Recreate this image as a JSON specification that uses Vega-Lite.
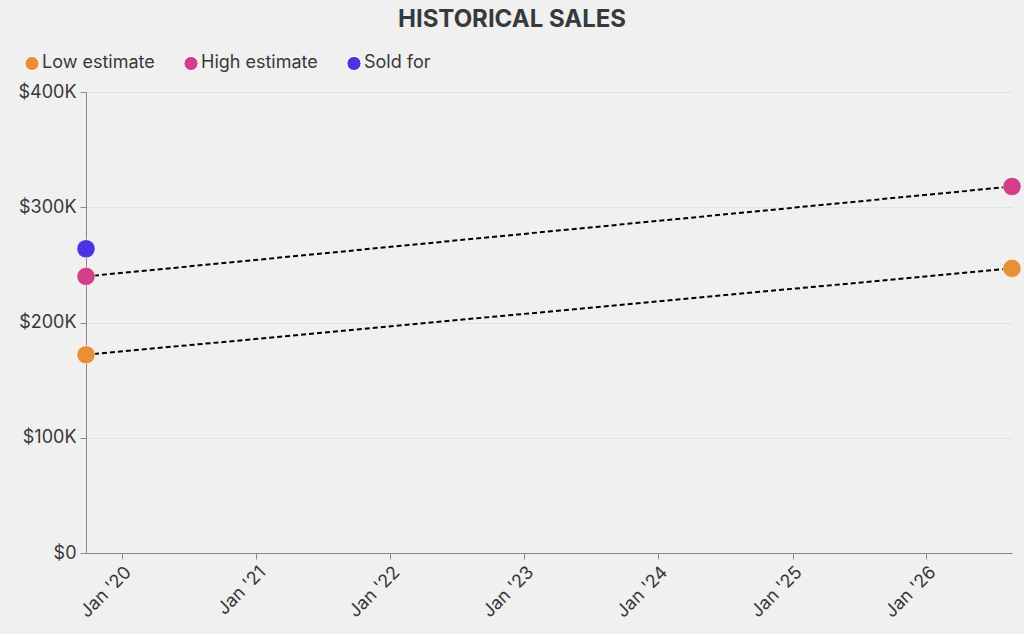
{
  "$schema": "https://vega.github.io/schema/vega-lite/v6.json",
  "autosize": {"type": "none"},
  "padding": {"left": 86, "top": 92, "right": 12, "bottom": 81},
  "width": 926,
  "height": 461,
  "background": "#f0f0f0",
  "config": {
    "font": "Inter",
    "view": {"stroke": null},
    "axis": {"labelFont": "Inter", "labelFontSize": 18, "labelColor": "#383838", "domainColor": "#888888", "tickColor": "#888888", "gridColor": "#e2e2e2", "title": null}
  },
  "title": {"text": "HISTORICAL SALES", "fontSize": 24, "fontWeight": "bold", "color": "#353a3d", "font": "Inter", "anchor": "middle", "dx": -37, "offset": 22},
  "data": {"values": [
    {"date": "2019-09-25", "type": "Low estimate", "value": 172000},
    {"date": "2019-09-25", "type": "High estimate", "value": 240000},
    {"date": "2019-09-25", "type": "Sold for", "value": 264000},
    {"date": "2026-08-22", "type": "Low estimate", "value": 247000},
    {"date": "2026-08-22", "type": "High estimate", "value": 318000}
  ]},
  "encoding": {
    "x": {"field": "date", "type": "temporal", "scale": {"nice": false},
      "axis": {"format": "%b '%y", "labelAngle": -45, "labelAlign": "right", "labelBaseline": "top", "tickCount": {"interval": "year", "step": 1}, "grid": false, "tickSize": 6, "labelPadding": 4}},
    "y": {"field": "value", "type": "quantitative", "scale": {"domain": [0, 400000]},
      "axis": {"labelExpr": "'$' + (datum.value == 0 ? '0' : format(datum.value/1000, 'd') + 'K')", "tickCount": 4, "grid": true, "tickSize": 6, "labelPadding": 4}}
  },
  "layer": [
    {
      "transform": [{"filter": "datum.type != 'Sold for'"}],
      "mark": {"type": "line", "color": "black", "strokeDash": [5, 3], "strokeWidth": 2},
      "encoding": {"detail": {"field": "type"}}
    },
    {
      "mark": {"type": "circle", "size": 330, "opacity": 1, "stroke": "white", "strokeWidth": 0.5},
      "encoding": {
        "color": {"field": "type", "type": "nominal",
          "scale": {"domain": ["Low estimate", "High estimate", "Sold for"], "range": ["#e88f37", "#d43d8a", "#4a33e0"]},
          "legend": {"title": null, "orient": "none", "legendX": -63, "legendY": -38, "direction": "horizontal", "labelFontSize": 18, "labelFont": "Inter", "labelColor": "#383838", "symbolType": "circle", "symbolSize": 200, "symbolStrokeColor": "white", "symbolStrokeWidth": 1, "symbolOpacity": 1, "columnPadding": 26, "labelOffset": 1}
        },
        "order": {"field": "type", "sort": "ascending"}
      }
    }
  ]
}
